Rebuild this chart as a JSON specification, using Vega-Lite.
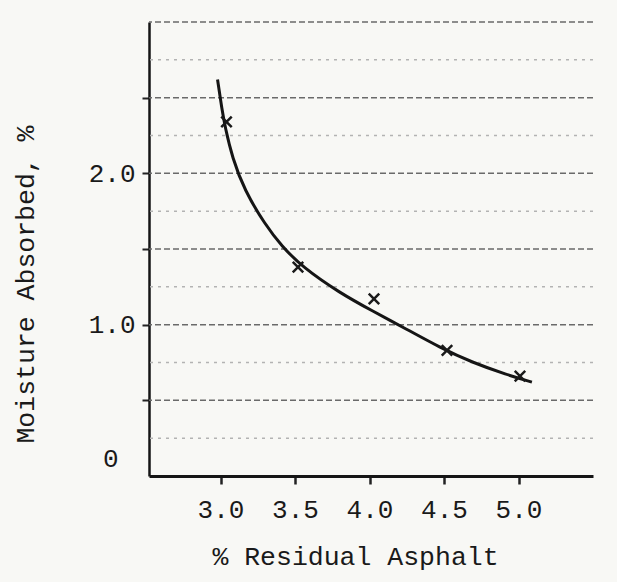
{
  "$schema": "https://vega.github.io/schema/vega-lite/v6.json",
  "width": 444,
  "height": 454,
  "autosize": {"type": "none"},
  "padding": {"left": 149, "top": 22, "right": 24, "bottom": 106},
  "background": "#f8f8f5",
  "config": {"view": {"stroke": null}, "font": "Liberation Mono"},
  "datasets": {
    "paper_rules": [
      {"level": 0.25, "kind": "minor"},
      {"level": 0.5, "kind": "major"},
      {"level": 0.75, "kind": "minor"},
      {"level": 1.0, "kind": "major"},
      {"level": 1.25, "kind": "minor"},
      {"level": 1.5, "kind": "major"},
      {"level": 1.75, "kind": "minor"},
      {"level": 2.0, "kind": "major"},
      {"level": 2.25, "kind": "minor"},
      {"level": 2.5, "kind": "major"},
      {"level": 2.75, "kind": "minor"},
      {"level": 3.0, "kind": "major"}
    ],
    "fitted_curve": [
      {"asphalt": 2.98, "moisture": 2.62},
      {"asphalt": 3.01, "moisture": 2.42},
      {"asphalt": 3.03, "moisture": 2.31},
      {"asphalt": 3.08, "moisture": 2.10},
      {"asphalt": 3.16, "moisture": 1.89},
      {"asphalt": 3.30, "moisture": 1.66},
      {"asphalt": 3.41, "moisture": 1.52},
      {"asphalt": 3.55, "moisture": 1.38},
      {"asphalt": 3.80, "moisture": 1.21},
      {"asphalt": 4.02, "moisture": 1.09},
      {"asphalt": 4.25, "moisture": 0.97},
      {"asphalt": 4.47, "moisture": 0.85},
      {"asphalt": 4.69, "moisture": 0.75},
      {"asphalt": 4.92, "moisture": 0.67},
      {"asphalt": 5.09, "moisture": 0.62}
    ],
    "samples": [
      {"asphalt": 3.04, "moisture": 2.34},
      {"asphalt": 3.52, "moisture": 1.38},
      {"asphalt": 4.03, "moisture": 1.17},
      {"asphalt": 4.52, "moisture": 0.83},
      {"asphalt": 5.01, "moisture": 0.66}
    ]
  },
  "layer": [
    {
      "data": {"name": "paper_rules"},
      "mark": {"type": "rule", "strokeWidth": 1.5},
      "encoding": {
        "y": {"field": "level", "type": "quantitative"},
        "color": {
          "field": "kind",
          "type": "nominal",
          "scale": {"domain": ["major", "minor"], "range": ["#6a6a6a", "#b3b3b3"]},
          "legend": null
        },
        "strokeDash": {
          "field": "kind",
          "type": "nominal",
          "scale": {"domain": ["major", "minor"], "range": [[6, 3], [3, 5]]},
          "legend": null
        }
      }
    },
    {
      "data": {"name": "fitted_curve"},
      "mark": {"type": "line", "interpolate": "basis", "color": "#151515", "strokeWidth": 3},
      "encoding": {
        "x": {
          "field": "asphalt",
          "type": "quantitative",
          "scale": {"domain": [2.52, 5.5], "nice": false, "zero": false},
          "axis": {
            "title": "% Residual Asphalt",
            "values": [3, 3.5, 4, 4.5, 5],
            "format": ".1f",
            "grid": false,
            "ticks": true,
            "domainColor": "#151515",
            "domainWidth": 3,
            "tickColor": "#222222",
            "tickWidth": 2.5,
            "tickSize": 8,
            "labelFont": "Liberation Mono",
            "labelFontSize": 26,
            "labelColor": "#1a1a1a",
            "labelBaseline": "middle",
            "labelPadding": 25,
            "titleFont": "Liberation Mono",
            "titleFontSize": 26.5,
            "titleFontWeight": "normal",
            "titleColor": "#1a1a1a",
            "titleX": 206,
            "titleY": 80,
            "titleAlign": "center",
            "titleBaseline": "middle",
            "encode": {"ticks": {"update": {"y2": {"value": -8}}}}
          }
        },
        "y": {
          "field": "moisture",
          "type": "quantitative",
          "scale": {"domain": [0, 3], "nice": false},
          "axis": {
            "title": "Moisture Absorbed, %",
            "values": [0, 0.5, 1, 1.5, 2, 2.5],
            "labelExpr": "datum.value == 2 ? '2.0' : datum.value == 1 ? '1.0' : datum.value == 0 ? '0' : ''",
            "grid": false,
            "ticks": true,
            "domainColor": "#151515",
            "domainWidth": 2.5,
            "tickColor": "#222222",
            "tickWidth": 2,
            "tickSize": 7,
            "tickOpacity": {"condition": {"test": "datum.value == 0", "value": 0}, "value": 1},
            "labelFont": "Liberation Mono",
            "labelFontSize": 26,
            "labelColor": "#1a1a1a",
            "labelBaseline": "middle",
            "labelPadding": {"condition": {"test": "datum.value == 0", "value": 24}, "value": 7},
            "labelOffset": {"condition": {"test": "datum.value == 0", "value": -18}, "value": 0},
            "titleFont": "Liberation Mono",
            "titleFontSize": 26.5,
            "titleFontWeight": "normal",
            "titleColor": "#1a1a1a",
            "titleAngle": -90,
            "titleX": -124,
            "titleY": 262,
            "titleAlign": "center",
            "titleBaseline": "middle",
            "encode": {
              "ticks": {"update": {"x2": {"value": 7}}}
            }
          }
        }
      }
    },
    {
      "data": {"name": "samples"},
      "mark": {
        "type": "point",
        "shape": "M-1,-1L1,1M-1,1L1,-1",
        "filled": false,
        "stroke": "#1a1a1a",
        "strokeWidth": 2.5,
        "size": 110,
        "opacity": 1
      },
      "encoding": {
        "x": {"field": "asphalt", "type": "quantitative"},
        "y": {"field": "moisture", "type": "quantitative"}
      }
    }
  ]
}
